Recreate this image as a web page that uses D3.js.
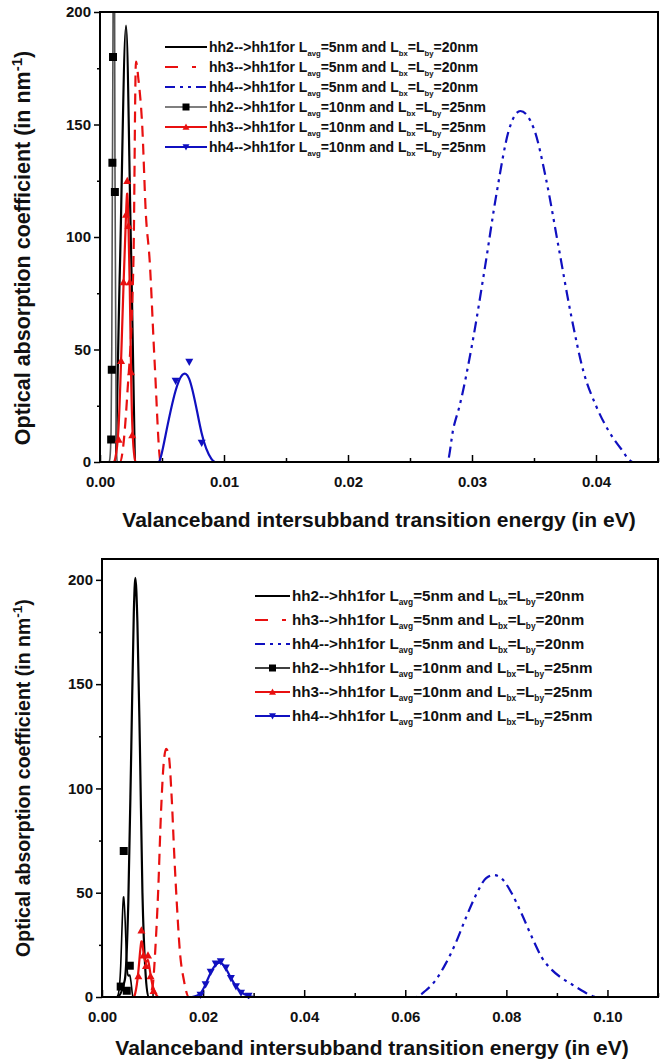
<!DOCTYPE html>
<html>
<head>
<meta charset="utf-8">
<script src="https://cdn.jsdelivr.net/npm/d3@7"></script>
<style>
  body { margin: 0; background: #fff; }
  svg { font-family: "Liberation Sans", Arial, sans-serif; font-weight: bold; }
</style>
</head>
<body>
<div id="chart"></div>
<script>
// ---- data: [energy (eV), absorption (nm^-1)] ----
// top panel
const topHH2a = [[0,0],[0.0012,0],[0.0016,85],[0.0021,194],[0.0025,95],[0.0029,0],[0.045,0]];
const topHH3a = [[0,0],[0.0016,0],[0.0022,30],[0.0027,90],[0.0029,178],[0.0031,170],[0.0034,150],[0.0037,110],[0.0040,90],[0.0044,45],[0.0049,0],[0.045,0]];
const topHH4a = [[0,0],[0.028,0],[0.0285,15],[0.029,25],[0.030,52],[0.031,85],[0.032,120],[0.033,148],[0.0339,156],[0.035,148],[0.036,125],[0.037,95],[0.038,65],[0.039,40],[0.040,25],[0.041,14],[0.042,6],[0.043,0],[0.045,0]];
const topHH2b = [[0,0],[0.0006,0],[0.0007,0],[0.0008,0],[0.0009,10],[0.00095,41],[0.001,133],[0.00105,180],[0.0011,320],[0.00115,300],[0.0012,120],[0.0013,0],[0.0014,0],[0.0015,0],[0.045,0]];
const topHH3b = [[0,0],[0.0010,0],[0.0011,0],[0.0012,0],[0.0015,10],[0.0017,45],[0.0019,80],[0.0021,110],[0.0022,125],[0.0023,105],[0.0024,80],[0.0025,40],[0.0026,12],[0.0028,0],[0.0029,0],[0.0030,0],[0.009,0]];
const topHH4b = [[0,0],[0.0045,0],[0.0047,0],[0.0049,0],[0.0061,36],[0.0072,44.5],[0.0082,8.5],[0.0091,0],[0.0093,0],[0.0095,0],[0.045,0]];

// bottom panel
const botHH2a = [[0,0],[0.0030,0],[0.0045,8],[0.0052,45],[0.0058,120],[0.0063,185],[0.0066,201],[0.0070,180],[0.0075,120],[0.0080,50],[0.0086,12],[0.0092,0],[0.11,0]];
const botHH3a = [[0,0],[0.0092,0],[0.0100,5],[0.0106,25],[0.0111,50],[0.0117,90],[0.0122,112],[0.0127,119],[0.0132,116],[0.0138,95],[0.0143,68],[0.0148,45],[0.0154,22],[0.0162,8],[0.0172,0],[0.11,0]];
const botHH4a = [[0,0],[0.062,0],[0.064,3],[0.066,8],[0.068,16],[0.070,26],[0.072,38],[0.074,49],[0.076,57],[0.0775,58.5],[0.079,57],[0.081,50],[0.083,40],[0.085,29],[0.087,19],[0.089,13],[0.091,9],[0.093,6],[0.095,3],[0.097,0.5],[0.098,0],[0.11,0]];
const botHH2b = [[0,0],[0.0025,0],[0.0028,0],[0.0031,0],[0.0037,5],[0.0043,70],[0.0049,3],[0.0055,15],[0.0060,0],[0.0062,0],[0.0064,0],[0.11,0]];
const botHH3b = [[0,0],[0.0060,0],[0.0062,0],[0.0065,0],[0.0072,10],[0.0078,32],[0.0082,20],[0.0087,15],[0.0091,20],[0.0096,10],[0.0102,3],[0.011,0],[0.0112,0],[0.0114,0],[0.028,0]];
const botHH4b = [[0,0],[0.0175,0],[0.0178,0],[0.018,0],[0.0195,1],[0.0205,6],[0.0215,12],[0.0225,16],[0.0235,17],[0.0245,14],[0.0255,9],[0.0265,5],[0.0275,2],[0.029,0.5],[0.030,0],[0.0302,0],[0.0304,0],[0.11,0]];

// legend
const legendHH = ["hh2", "hh3", "hh4", "hh2", "hh3", "hh4"];
const legendLavg = ["5", "5", "5", "10", "10", "10"];
const legendLb = ["20", "20", "20", "25", "25", "25"];

// ticks
const topXTicks = [0, 0.01, 0.02, 0.03, 0.04];
const topXMinor = [0.005, 0.015, 0.025, 0.035, 0.045];
const botXTicks = [0, 0.02, 0.04, 0.06, 0.08, 0.10];
const botXMinor = [0.01, 0.03, 0.05, 0.07, 0.09, 0.11];
const yTicks = [0, 50, 100, 150, 200];
const yMinor = [25, 75, 125, 175];

const RED = "#e81010", BLUE = "#1010c0";

// styles for the 6 series, same order as legend
const styles = [
  { color: "#000", width: 2.2, dash: null, marker: null },
  { color: RED, width: 2.2, dash: "11,7", marker: null },
  { color: BLUE, width: 2.2, dash: "11,5,3,5,3,5", marker: null },
  { color: "#000", width: 1.6, dash: null, marker: "square" },
  { color: RED, width: 2.2, dash: null, marker: "triangle" },
  { color: BLUE, width: 2.2, dash: null, marker: "down" }
];

const svg = d3.select("#chart").append("svg")
  .attr("width", 665).attr("height", 1061);

function drawPanel(cfg) {
  const x = d3.scaleLinear().domain(cfg.xDomain).range([cfg.left, cfg.right]);
  const y = d3.scaleLinear().domain(cfg.yDomain).range([cfg.bottom, cfg.top]);
  const g = svg.append("g");

  g.append("clipPath").attr("id", cfg.id)
    .append("rect")
    .attr("x", cfg.left).attr("y", cfg.top)
    .attr("width", cfg.right - cfg.left).attr("height", cfg.bottom - cfg.top + 2);

  // y axis, ticks outward
  g.append("g").attr("transform", `translate(${cfg.left},0)`)
    .call(d3.axisLeft(y).tickValues(yTicks).tickSizeInner(6).tickSizeOuter(0).tickPadding(3));
  g.append("g").attr("transform", `translate(${cfg.left},0)`)
    .call(d3.axisLeft(y).tickValues(yMinor).tickSizeInner(3).tickSizeOuter(0).tickFormat(""));

  // x axis, ticks inward
  g.append("g").attr("transform", `translate(0,${cfg.bottom})`)
    .call(d3.axisBottom(x).tickValues(cfg.xTicks).tickSizeInner(-7).tickSizeOuter(0)
      .tickPadding(14).tickFormat(d3.format(".2f")));
  g.append("g").attr("transform", `translate(0,${cfg.bottom})`)
    .call(d3.axisBottom(x).tickValues(cfg.xMinor).tickSizeInner(-4).tickSizeOuter(0).tickFormat(""));

  g.selectAll(".domain").remove();
  g.selectAll(".tick line").attr("stroke", "#000").attr("stroke-width", 1.5);
  g.selectAll(".tick text").attr("font-size", 15).attr("font-weight", "bold")
    .attr("font-family", "Liberation Sans, Arial, sans-serif").attr("fill", "#111");

  // data
  const plot = g.append("g").attr("clip-path", `url(#${cfg.id})`);
  cfg.series.forEach((data, i) => {
    const st = styles[i];
    const curve = st.marker ? d3.curveBasis : d3.curveMonotoneX;
    const line = d3.line().x(d => x(d[0])).y(d => y(d[1])).curve(curve);
    plot.append("path")
      .attr("d", line(data))
      .attr("fill", "none")
      .attr("stroke", i === 3 && cfg.id === "clipTop" ? "#555" : st.color)
      .attr("stroke-width", st.width)
      .attr("stroke-dasharray", st.dash);
    if (st.marker) {
      plot.selectAll(null)
        .data(data.filter(d => d[1] > 0))
        .enter().append("path")
        .attr("transform", d => `translate(${x(d[0])},${y(d[1])})`)
        .attr("d", markerPath(st.marker, 4))
        .attr("fill", st.color);
    }
  });

  // frame
  g.append("rect")
    .attr("x", cfg.left).attr("y", cfg.top)
    .attr("width", cfg.right - cfg.left).attr("height", cfg.bottom - cfg.top)
    .attr("fill", "none").attr("stroke", "#000").attr("stroke-width", 2);

  // legend
  const lg = g.append("g");
  legendHH.forEach((hh, i) => {
    const st = styles[i];
    const yy = cfg.legY + i * cfg.legDy;
    const x0 = cfg.legX, x1 = cfg.legX + cfg.legLen;
    lg.append("line")
      .attr("x1", x0).attr("x2", x1).attr("y1", yy).attr("y2", yy)
      .attr("stroke", i === 3 && cfg.id === "clipTop" ? "#555" : st.color)
      .attr("stroke-width", st.width)
      .attr("stroke-dasharray", st.dash ? (i === 1 ? "13,14,4" : "10,5,3,5,3,5") : null);
    if (st.marker) {
      lg.append("path")
        .attr("transform", `translate(${(x0 + x1) / 2},${yy})`)
        .attr("d", markerPath(st.marker, 3.5))
        .attr("fill", st.color);
    }
    const t = lg.append("text")
      .attr("x", x1 + 2).attr("y", yy + cfg.legFont * 0.36)
      .attr("font-size", cfg.legFont).attr("fill", "#111");
    const sub = cfg.legFont * 0.55;
    t.append("tspan").text(`${hh}-->hh1for L`);
    t.append("tspan").attr("font-size", sub).attr("dy", 4).text("avg");
    t.append("tspan").attr("dy", -4).text(`=${legendLavg[i]}nm and L`);
    t.append("tspan").attr("font-size", sub).attr("dy", 4).text("bx");
    t.append("tspan").attr("dy", -4).text("=L");
    t.append("tspan").attr("font-size", sub).attr("dy", 4).text("by");
    t.append("tspan").attr("dy", -4).text(`=${legendLb[i]}nm`);
  });

  // axis titles
  g.append("text")
    .attr("x", cfg.xTitleX).attr("y", cfg.xTitleY)
    .attr("text-anchor", "middle").attr("font-size", cfg.titleFont).attr("fill", "#111")
    .text("Valanceband intersubband transition energy (in eV)");

  const yt = g.append("text")
    .attr("transform", `translate(${cfg.yTitleX},${cfg.yTitleY}) rotate(-90)`)
    .attr("text-anchor", "middle").attr("font-size", cfg.yTitleFont).attr("fill", "#111");
  yt.append("tspan").text("Optical absorption coefficient (in nm");
  yt.append("tspan").attr("font-size", cfg.yTitleFont * 0.7).attr("dy", -8).text("-1");
  yt.append("tspan").attr("dy", 8).text(")");
}

function markerPath(type, r) {
  if (type === "square") return `M${-r},${-r}H${r}V${r}H${-r}Z`;
  if (type === "triangle") return `M0,${-r}L${r},${r * 0.8}L${-r},${r * 0.8}Z`;
  return `M0,${r}L${r},${-r * 0.8}L${-r},${-r * 0.8}Z`;
}

drawPanel({
  id: "clipTop",
  xDomain: [0, 0.045], yDomain: [0, 200],
  left: 100, right: 658, top: 12, bottom: 462,
  xTicks: topXTicks, xMinor: topXMinor,
  series: [topHH2a, topHH3a, topHH4a, topHH2b, topHH3b, topHH4b],
  legX: 165, legY: 47, legDy: 20, legLen: 42, legFont: 14,
  xTitleX: 379, xTitleY: 527, titleFont: 21,
  yTitleX: 30, yTitleY: 248, yTitleFont: 21.5
});

drawPanel({
  id: "clipBot",
  xDomain: [0, 0.11], yDomain: [0, 210],
  left: 102, right: 658, top: 559, bottom: 997,
  xTicks: botXTicks, xMinor: botXMinor,
  series: [botHH2a, botHH3a, botHH4a, botHH2b, botHH3b, botHH4b],
  legX: 255, legY: 596, legDy: 24, legLen: 35, legFont: 15.2,
  xTitleX: 372, xTitleY: 1055, titleFont: 21,
  yTitleX: 30, yTitleY: 778, yTitleFont: 19.5
});
</script>
</body>
</html>
